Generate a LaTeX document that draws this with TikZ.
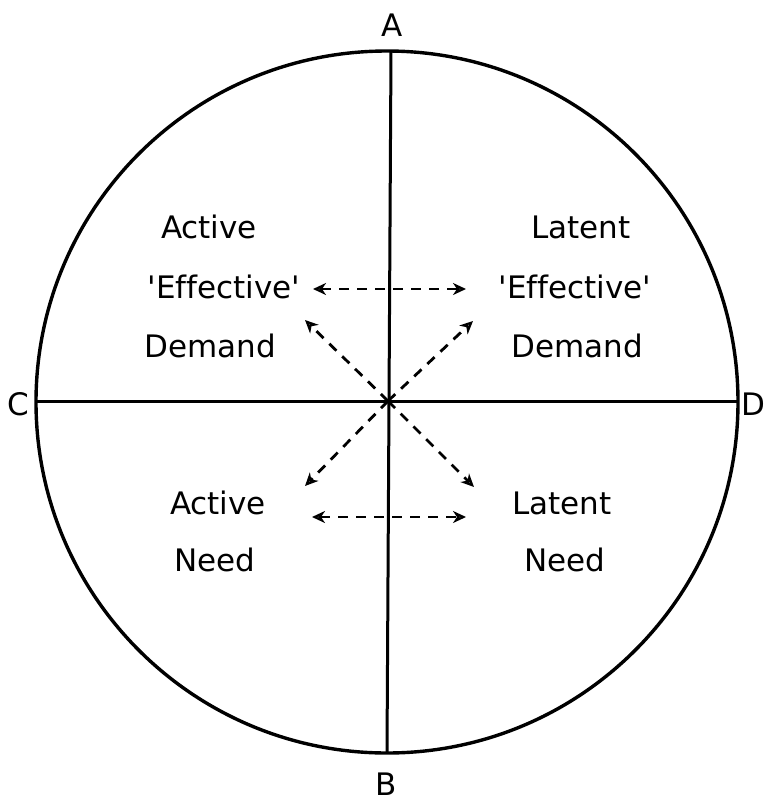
\documentclass[tikz,border=0pt]{standalone}
\usepackage{fontspec}
\setmainfont[Ligatures=NoCommon]{DejaVu Sans}
\usetikzlibrary{arrows.meta}
\begin{document}
\begin{tikzpicture}[x=1pt,y=-1pt,
  txt/.style={font=\fontsize{31}{37}\selectfont, inner sep=0pt, anchor=base},
  rim/.style={line width=3.4pt},
  axisline/.style={line width=3pt},
  tip/.tip={Stealth[open,length=13pt,width=12pt,inset=4pt,line width=2.2pt]},
  dasharrow/.style={line width=2.8pt, dash pattern=on 10pt off 8pt},
  onearrow/.style={dasharrow,-tip},
  twoarrow/.style={dasharrow,tip-tip}
]
\useasboundingbox (0,0) rectangle (765,801);
\fill[white] (0,0) rectangle (765,801);

% circle and axes
\coordinate (O) at (388,401);
\node[circle, draw, rim, minimum size=702pt, inner sep=0pt] (circ) at (387,402) {};
\coordinate (Atop) at (391,51);
\coordinate (Bbot) at (387,752);
\coordinate (Cl) at (36,401);
\coordinate (Dr) at (738,401);
\draw[axisline] (Atop) -- (Bbot);
\draw[axisline] (Cl) -- (Dr);

% axis labels
\node[txt] (A) at (392,36) {A};
\node[txt] (B) at (386,795) {B};
\node[txt] (C) at (18,415) {C};
\node[txt] (D) at (753,415) {D};

% quadrant texts
\node[txt] (tl1) at (209,238) {Active};
\node[txt] (tl2) at (224,298) {\textquotesingle Effective\textquotesingle};
\node[txt] (tl3) at (210,357) {Demand};
\node[txt] (tr1) at (581,238) {Latent};
\node[txt] (tr2) at (575,298) {\textquotesingle Effective\textquotesingle};
\node[txt] (tr3) at (577,357) {Demand};
\node[txt] (bl1) at (218,514) {Active};
\node[txt] (bl2) at (215,571) {Need};
\node[txt] (br1) at (562,514) {Latent};
\node[txt] (br2) at (565,571) {Need};

% arrow end points
\coordinate (th1) at (313,289);
\coordinate (th2) at (466,289);
\coordinate (bh1) at (312,517);
\coordinate (bh2) at (466,517);
\coordinate (dTL) at (305,320);
\coordinate (dTR) at (473,321);
\coordinate (dBL) at (305,486);
\coordinate (dBR) at (474,487);

\draw[twoarrow] (th1) -- (th2);
\draw[twoarrow] (bh1) -- (bh2);
\draw[onearrow] (O) -- (dTL);
\draw[onearrow] (O) -- (dTR);
\draw[onearrow] (O) -- (dBL);
\draw[onearrow] (O) -- (dBR);
\end{tikzpicture}
\end{document}
